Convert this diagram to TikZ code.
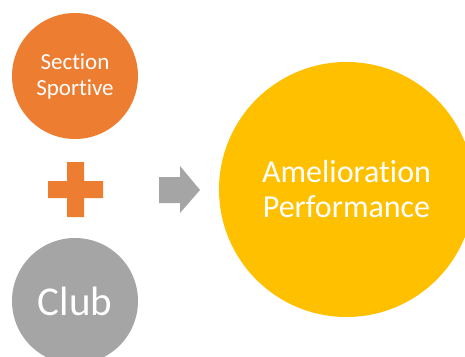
\documentclass[tikz,border=0pt]{standalone}
\usepackage{fontspec}
\setmainfont{Carlito}[Ligatures=NoCommon]
\definecolor{offorange}{HTML}{ED7D31}
\definecolor{offgray}{HTML}{A5A5A5}
\definecolor{offyellow}{HTML}{FFC000}
\begin{document}
\begin{tikzpicture}[x=1pt,y=-1pt,
  bubble/.style={circle,inner sep=0pt,text=white,align=center}]
\useasboundingbox (0,0) rectangle (465,356);
\clip (0,0) rectangle (465,356);
\node[bubble,fill=offorange,minimum size=126pt,font=\fontsize{23}{26}\selectfont] (sec) at (75,76) {Section\\Sportive};
\node[bubble,fill=offgray,minimum size=126pt,font=\fontsize{41}{48}\selectfont] (club) at (75,301) {Club};
\node[bubble,fill=offyellow,minimum size=255pt,font=\fontsize{32}{35}\selectfont] (perf) at (346.5,189.5) {Amelioration\\Performance};
% plus sign
\fill[offorange] (67,162) -- (84,162) -- (84,181) -- (103,181) -- (103,198) -- (84,198) -- (84,217) -- (67,217) -- (67,198) -- (48,198) -- (48,181) -- (67,181) -- cycle;
% arrow
\fill[offgray] (159,177) -- (180,177) -- (180,166) -- (200,190) -- (180,213) -- (180,203) -- (159,203) -- cycle;
\end{tikzpicture}
\end{document}
